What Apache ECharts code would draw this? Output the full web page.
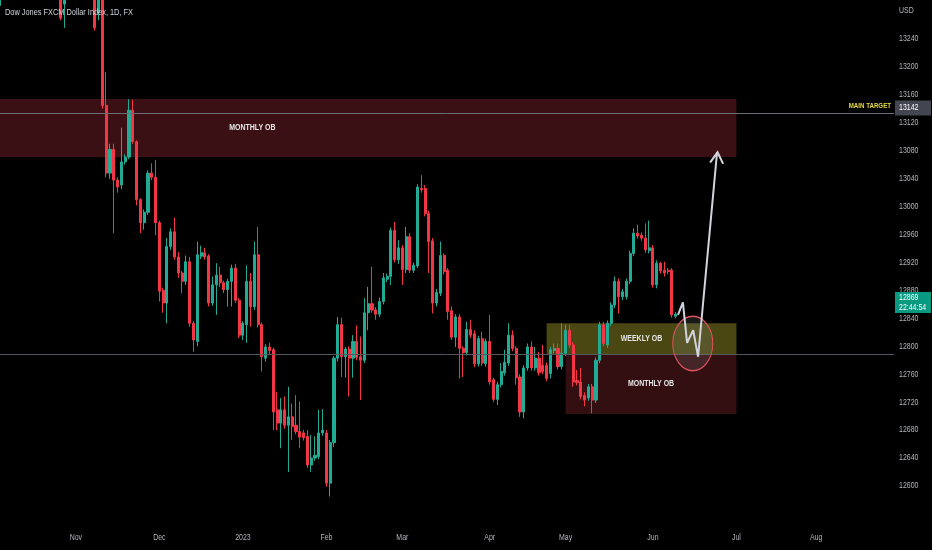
<!DOCTYPE html>
<html><head><meta charset="utf-8">
<script src="https://cdn.jsdelivr.net/npm/echarts@6/dist/echarts.min.js"></script>
<style>html,body{margin:0;padding:0;background:#000}#c{width:932px;height:550px}</style>
</head><body><div id="c"></div>
<script>
const FONT = "'Liberation Sans', Arial, sans-serif";

// ---- calendar (trading days, Mon-Fri) ----
const firstDay = '2022-10-04';
const lastDay = '2023-08-29';
const monthNames = ['2023','Feb','Mar','Apr','May','Jun','Jul','Aug','Sep','Oct','Nov','Dec'];

// ---- price axis ----
const yMin = 12560, yMax = 13280, yStep = 40;
const yTickLabels = [12600, 12640, 12680, 12720, 12760, 12800, 12840, 12880, 12920, 12960, 13000, 13040, 13080, 13120, 13160, 13200, 13240];

// ---- OHLC : [open, close, low, high] per trading day from firstDay ----
const ohlc = [
[13288,13335,13284,13350],[13335,13390,13320,13400],[13390,13430,13380,13445],[13430,13470,13415,13485],
[13470,13480,13450,13500],[13480,13500,13460,13515],[13500,13470,13455,13520],[13470,13490,13400,13530],
[13490,13530,13470,13540],[13530,13480,13470,13545],[13480,13470,13440,13500],[13470,13510,13460,13520],
[13510,13525,13490,13540],[13525,13460,13440,13550],[13460,13440,13420,13480],[13440,13390,13370,13450],
[13390,13270,13267,13395],[13290,13340,13256,13350],[13340,13370,13330,13385],[13370,13360,13340,13380],
[13360,13390,13350,13400],[13390,13420,13330,13440],[13420,13460,13410,13475],[13460,13370,13350,13470],
[13370,13330,13310,13380],[13330,13256,13252,13340],[13278,13315,13267,13325],[13315,13145,13140,13320],
[13145,13048,13042,13193],[13048,13082,13040,13090],[13082,13038,12962,13090],[13038,13028,13020,13042],
[13031,13064,13025,13113],[13064,13071,13060,13075],[13071,13138,13068,13154],[13138,13093,13090,13153],
[13093,13010,13002,13095],[13010,12977,12962,13012],[12977,12992,12967,12996],[12992,13048,12988,13052],
[13048,13042,13038,13062],[13042,12977,12959,13067],[12977,12879,12864,12980],[12880,12862,12848,12884],
[12862,12943,12833,12955],[12943,12964,12938,12969],[12964,12928,12924,12984],[12928,12905,12898,12935],
[12905,12893,12876,12908],[12893,12921,12888,12930],[12921,12833,12828,12928],[12833,12809,12792,12836],
[12807,12931,12800,12950],[12929,12934,12925,12944],[12934,12928,12924,12941],[12929,12862,12857,12932],
[12862,12888,12858,12900],[12888,12902,12845,12919],[12902,12891,12885,12914],[12891,12881,12876,12894],
[12881,12893,12857,12897],[12893,12912,12857,12917],[12912,12866,12862,12918],[12866,12816,12812,12869],
[12816,12833,12809,12836],[12831,12893,12805,12916],[12893,12857,12828,12905],[12857,12931,12852,12950],
[12931,12831,12827,12971],[12831,12785,12764,12834],[12783,12799,12778,12803],[12799,12794,12789,12805],
[12795,12706,12680,12798],[12709,12690,12680,12735],[12690,12709,12654,12726],[12709,12687,12682,12728],
[12687,12699,12620,12742],[12699,12685,12666,12718],[12687,12678,12674,12730],[12678,12670,12654,12721],
[12676,12669,12665,12680],[12671,12630,12626,12680],[12630,12640,12620,12673],[12640,12644,12636,12671],
[12642,12676,12638,12709],[12676,12680,12672,12710],[12676,12604,12599,12680],[12604,12662,12585,12666],
[12662,12783,12656,12786],[12783,12831,12778,12842],[12831,12785,12756,12841],[12785,12796,12755,12799],
[12796,12783,12728,12800],[12783,12807,12755,12816],[12807,12784,12780,12830],[12785,12780,12723,12814],
[12780,12848,12776,12869],[12848,12861,12823,12885],[12861,12852,12848,12914],[12852,12846,12838,12856],
[12846,12864,12842,12870],[12864,12898,12860,12905],[12896,12900,12892,12904],[12900,12966,12888,12970],
[12966,12924,12920,12978],[12924,12941,12918,12952],[12941,12910,12888,12945],[12910,12957,12905,12971],
[12957,12909,12905,12962],[12909,12916,12905,12920],[12915,13028,12912,13032],[13026,13024,13020,13045],
[13026,12990,12986,13031],[12990,12950,12905,12994],[12951,12862,12847,12955],[12862,12877,12857,12882],
[12876,12930,12872,12950],[12930,12907,12903,12933],[12909,12850,12838,12912],[12851,12813,12809,12857],
[12813,12842,12799,12846],[12842,12797,12754,12846],[12797,12791,12756,12800],[12791,12824,12787,12835],
[12824,12816,12812,12838],[12818,12775,12770,12823],[12775,12811,12771,12815],[12811,12776,12772,12821],
[12775,12807,12771,12811],[12807,12749,12745,12845],[12752,12724,12720,12755],[12724,12745,12716,12749],
[12745,12764,12741,12776],[12762,12777,12758,12795],[12776,12816,12772,12833],[12816,12797,12793,12823],
[12797,12755,12745,12800],[12756,12706,12699,12760],[12706,12769,12697,12773],[12769,12799,12765,12804],
[12799,12769,12765,12807],[12769,12783,12765,12799],[12783,12762,12758,12792],[12773,12764,12760,12802],
[12773,12754,12750,12777],[12761,12795,12754,12799],[12794,12797,12790,12804],[12797,12771,12767,12804],
[12771,12790,12767,12833],[12790,12823,12786,12831],[12823,12802,12798,12831],[12802,12749,12742,12806],
[12751,12748,12744,12766],[12749,12728,12724,12769],[12730,12723,12714,12734],[12726,12742,12722,12746],
[12742,12723,12704,12746],[12723,12780,12719,12784],[12780,12831,12776,12835],[12831,12804,12800,12835],
[12802,12833,12798,12837],[12833,12859,12829,12863],[12859,12893,12855,12900],[12893,12871,12847,12897],
[12871,12878,12866,12882],[12871,12893,12867,12897],[12893,12933,12889,12937],[12933,12962,12929,12969],
[12962,12958,12954,12974],[12959,12955,12951,12963],[12955,12938,12934,12976],[12937,12941,12933,12980],
[12941,12888,12884,12945],[12888,12919,12883,12923],[12919,12908,12904,12921],[12909,12905,12900,12921],
[12909,12907,12903,12912],[12909,12845,12841,12912],[12843,12846,12840,12849]
];

// ---- annotations (bar index, price) ----
const titleText = 'Dow Jones FXCM Dollar Index, 1D, FX';
const currencyText = 'USD';
const mainTarget = 13134;
const mainTargetText = 'MAIN TARGET';
const mainTargetBadge = 13142;
const refLine = 12789;
const lastPriceBadge = 12869;
const countdown = '22:44:54';
const zoneNames = ['MONTHLY OB', 'WEEKLY OB', 'MONTHLY OB'];
const zoneStart = [-61, 144, 149];
const zoneEnd = [194, 194, 194];
const zoneTop = [13154, 12833, 12789];
const zoneBottom = [13071, 12789, 12703];
const arrowX = [178.6, 179.9, 181.0, 182.6, 183.9, 188.9];
const arrowY = [12845, 12863, 12805, 12823, 12785, 13078];
const circleCenter = [182.5, 12804];
const circleRadius = [5.27, 39];

// ---- build calendar ----
const dates = [];
for (let d = new Date(firstDay + 'T00:00:00Z'); d <= new Date(lastDay + 'T00:00:00Z'); d.setUTCDate(d.getUTCDate() + 1)) {
  const w = d.getUTCDay();
  if (w !== 0 && w !== 6) dates.push(d.toISOString().slice(0, 10));
}
const monthStart = [];
dates.forEach((s, i) => { if (i > 0 && s.slice(5, 7) !== dates[i - 1].slice(5, 7)) monthStart.push(i); });

const zoneColors = ['#3a1014', '#4a4713', '#330f12'];

const chart = echarts.init(document.getElementById('c'), null, {renderer: 'canvas'});
chart.setOption({
  animation: false,
  backgroundColor: '#000000',
  grid: {left: -2, right: 38, top: 11.1, bottom: 36.1, containLabel: false, outerBoundsMode: 'none'},
  xAxis: [
    {type: 'category', data: dates, boundaryGap: true,
     axisLine: {show: false}, axisTick: {show: false}, splitLine: {show: false}, axisLabel: {show: false}},
    {type: 'value', min: -0.5, max: dates.length - 0.5, show: false}
  ],
  yAxis: {
    type: 'value', position: 'right', min: yMin, max: yMax, interval: yStep,
    axisLine: {show: false}, axisTick: {show: false}, splitLine: {show: false}, axisLabel: {show: false}
  },
  series: [
    {
      type: 'line', xAxisIndex: 1, yAxisIndex: 0, z: 1, silent: true,
      data: [[0, zoneTop[0]]], symbol: 'none', lineStyle: {opacity: 0},
      markArea: {
        silent: true,
        data: zoneNames.map((n, k) => [
          {xAxis: Math.max(zoneStart[k], -0.5), yAxis: zoneTop[k], itemStyle: {color: zoneColors[k]}},
          {xAxis: zoneEnd[k], yAxis: zoneBottom[k]}
        ])
      }
    },
    {
      type: 'candlestick', xAxisIndex: 0, yAxisIndex: 0, z: 3, clip: false,
      data: ohlc, barWidth: 2.6,
      itemStyle: {color: '#22ab94', color0: '#f23645', borderColor: '#22ab94', borderColor0: '#f23645', borderWidth: 1},
      markLine: {
        silent: true, symbol: ['none', 'none'], animation: false, label: {show: false},
        data: [
          {yAxis: mainTarget, lineStyle: {color: '#6a6d76', width: 1, type: 'solid'}},
          {yAxis: refLine, lineStyle: {color: '#54575f', width: 1, type: 'solid'}}
        ]
      }
    },
    {
      type: 'custom', xAxisIndex: 1, yAxisIndex: 0, z: 5, silent: true, clip: false,
      data: [[circleCenter[0], circleCenter[1], circleRadius[0], circleRadius[1]]],
      renderItem: (params, api) => {
        const c = api.coord([api.value(0), api.value(1)]);
        const s = api.size([api.value(2), api.value(3)]);
        return {type: 'circle', x: c[0], y: c[1], scaleY: s[1] / s[0],
                shape: {cx: 0, cy: 0, r: s[0]},
                style: {fill: 'rgba(190,190,190,0.13)', stroke: '#e0525e', lineWidth: 1, strokeNoScale: true}};
      }
    },
    {
      type: 'line', xAxisIndex: 1, yAxisIndex: 0, z: 6, silent: true, clip: false,
      data: arrowX.map((x, k) => [x, arrowY[k]]),
      lineStyle: {color: '#d1d4dc', width: 2},
      showSymbol: true,
      symbol: (v, p) => p.dataIndex === arrowX.length - 1 ? 'path://M0,12 L7,0 L14,12' : 'none',
      symbolSize: [13, 11], symbolRotate: -5, symbolOffset: [0, '50%'],
      itemStyle: {color: 'rgba(0,0,0,0)', borderColor: '#d1d4dc', borderWidth: 2}
    }
  ]
});

// ---- narrow (condensed) texts placed through the chart's own scales ----
const NARROW = 0.82;
function txt(x, y, text, size, color, align, weight, z) {
  return {type: 'text', x: x, y: y, scaleX: NARROW, silent: true, z: z || 100,
    style: {text: text, fill: color, font: (weight || 'normal') + ' ' + size + 'px ' + FONT,
            textAlign: align, textVerticalAlign: 'middle', align: align, verticalAlign: 'middle'}};
}
const yPix = (v) => chart.convertToPixel({yAxisIndex: 0}, v);
const rightEdge = chart.convertToPixel({xAxisIndex: 1}, dates.length - 0.5);
const labelX = rightEdge + 5;
const xLabelY = yPix(yMin) + 24;
const G = [];
G.push(txt(5, 13, titleText, 9, '#d1d4dc', 'left'));
G.push(txt(labelX, 11, currencyText, 8.5, '#b2b5be', 'left'));
yTickLabels.forEach((v) => G.push(txt(labelX, yPix(v), String(v), 8.5, '#b2b5be', 'left')));
monthStart.forEach((i) => {
  const m = +dates[i].slice(5, 7);
  G.push(txt(chart.convertToPixel({xAxisIndex: 0}, i), xLabelY, monthNames[(m + 11) % 12], 8.5, '#b2b5be', 'center'));
});
zoneNames.forEach((n, k) => {
  const p = chart.convertToPixel({xAxisIndex: 1, yAxisIndex: 0}, [(zoneStart[k] + zoneEnd[k]) / 2, (zoneTop[k] + zoneBottom[k]) / 2]);
  G.push(txt(p[0], p[1], n, 8.5, '#e6e6e6', 'center', 'bold', 50));
});
G.push(txt(rightEdge - 3, yPix(mainTarget) - 7, mainTargetText, 7.5, '#e6dc45', 'right', 'bold', 50));
// price badges on the axis
const bt = yPix(mainTargetBadge);
G.push({type: 'rect', silent: true, z: 110, shape: {x: rightEdge + 1, y: bt - 7, width: 36, height: 15}, style: {fill: '#434651'}});
G.push(txt(labelX, bt + 0.5, String(mainTargetBadge), 8.5, '#ffffff', 'left', 'normal', 111));
const bl = yPix(lastPriceBadge);
G.push({type: 'rect', silent: true, z: 110, shape: {x: rightEdge + 1, y: bl - 6, width: 36, height: 21}, style: {fill: '#089981'}});
G.push(txt(labelX, bl, String(lastPriceBadge), 8.5, '#ffffff', 'left', 'normal', 111));
G.push(txt(labelX, bl + 9.5, countdown, 8.5, '#ffffff', 'left', 'normal', 111));
chart.setOption({graphic: G});
</script></body></html>
